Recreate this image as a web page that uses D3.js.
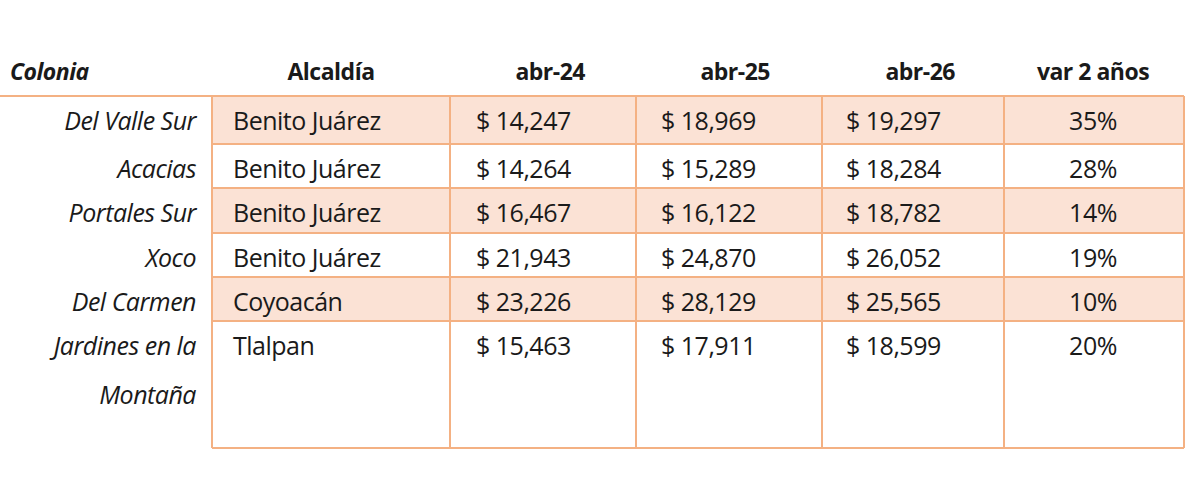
<!DOCTYPE html><html><head><meta charset="utf-8"><script src="https://cdn.jsdelivr.net/npm/d3@7"></script>
<style>body{margin:0;background:#fff}</style></head><body><svg id="c" width="1200" height="501"></svg>
<script>
const colonias=[["Del Valle Sur"],["Acacias"],["Portales Sur"],["Xoco"],["Del Carmen"],["Jardines en la","Montaña"]];
const alcaldias=["Benito Juárez","Benito Juárez","Benito Juárez","Benito Juárez","Coyoacán","Tlalpan"];
const abr24=[14247,14264,16467,21943,23226,15463];
const abr25=[18969,15289,16122,24870,28129,17911];
const abr26=[19297,18284,18782,26052,25565,18599];
const var2=[35,28,14,19,10,20];
const headers=["Colonia","Alcaldía","abr-24","abr-25","abr-26","var 2 años"];

const svg=d3.select("#c");
const font="'Open Sans', sans-serif";
const border="#f4b183", fill="#fbe2d5";
const colX=[212,450,636,822,1004,1184];
const rowY=[96,144,188,233,277,321,448];
const fmt=d3.format(",");
const g=svg.append("g").attr("font-family",font).attr("font-size",25).attr("fill","#1a1a1a");
rowY.slice(0,-1).forEach((y,i)=>{ if(i%2===0) g.append("rect").attr("x",colX[0]).attr("y",y).attr("width",colX[5]-colX[0]).attr("height",rowY[i+1]-y).attr("fill",fill); });
const L=(x1,y1,x2,y2)=>g.append("line").attr("x1",x1).attr("y1",y1).attr("x2",x2).attr("y2",y2).attr("stroke",border).attr("stroke-width",2);
L(0,96,1184,96);
rowY.slice(1).forEach(y=>L(colX[0],y,colX[5],y));
colX.forEach(x=>L(x,96,x,448));
const hy=80;
const T=(x,y,t,a,o={})=>{const e=g.append("text").attr("x",x).attr("y",y).attr("text-anchor",a).attr("letter-spacing","-0.5").text(t);Object.entries(o).forEach(([k,v])=>e.attr(k,v));return e;};
T(10,hy,headers[0],"start",{"font-weight":"bold","font-style":"italic","font-size":23});
T(331,hy,headers[1],"middle",{"font-weight":"bold","font-size":23});
T(585,hy,headers[2],"end",{"font-weight":"bold","font-size":23});
T(770,hy,headers[3],"end",{"font-weight":"bold","font-size":23});
T(955,hy,headers[4],"end",{"font-weight":"bold","font-size":23});
T(1093,hy,headers[5],"middle",{"font-weight":"bold","font-size":23});
colonias.forEach((c,i)=>{
  const y=rowY[i]+34;
  c.forEach((s,j)=>T(196,y+j*49,s,"end",{"font-style":"italic"}));
  T(233,y,alcaldias[i],"start");
  T(476,y,"$ "+fmt(abr24[i]),"start");
  T(661,y,"$ "+fmt(abr25[i]),"start");
  T(846,y,"$ "+fmt(abr26[i]),"start");
  T(1093,y,var2[i]+"%","middle");
});
</script></body></html>
